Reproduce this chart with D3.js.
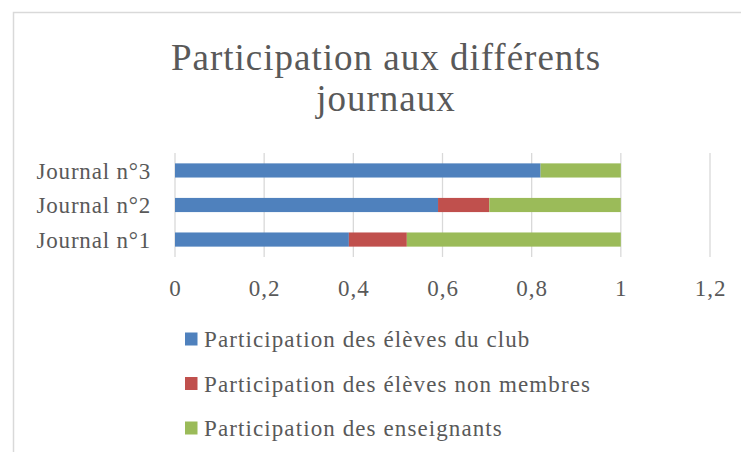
<!DOCTYPE html>
<html>
<head>
<meta charset="utf-8">
<script src="https://cdn.jsdelivr.net/npm/d3@7"></script>
<style>
  html, body { margin: 0; padding: 0; background: #fff; }
  svg { display: block; }
  text { font-family: "Liberation Serif", serif; fill: #595959; }
</style>
</head>
<body>
<svg id="chart" width="741" height="452"></svg>
<script>
/* ── DATA ───────────────────────────────────────── */
const categories   = ['Journal n°1', 'Journal n°2', 'Journal n°3'];
const club         = [0.39, 0.59, 0.82];
const nonMembres   = [0.13, 0.115, 0];
const enseignants  = [0.48, 0.295, 0.18];
const seriesNames  = ['Participation des élèves du club',
                      'Participation des élèves non membres',
                      'Participation des enseignants'];
const seriesColors = ['#4F81BD', '#C0504D', '#9BBB59'];
const xTicks       = [0, 0.2, 0.4, 0.6, 0.8, 1, 1.2];

/* ── SETUP ──────────────────────────────────────── */
const svg = d3.select('#chart');

// chart area border (runs off the right / bottom edge)
svg.append('rect')
  .attr('x', 13.5).attr('y', 12.5).attr('width', 760).attr('height', 460)
  .attr('fill', 'none').attr('stroke', '#d9d9d9').attr('stroke-width', 1.5);

// title
svg.append('text').attr('x', 386).attr('y', 70).attr('text-anchor', 'middle')
  .attr('font-size', 37).attr('letter-spacing', 1).text('Participation aux différents');
svg.append('text').attr('x', 386).attr('y', 111).attr('text-anchor', 'middle')
  .attr('font-size', 37).attr('letter-spacing', 1).text('journaux');

const x = d3.scaleLinear().domain([0, 1.2]).range([175, 710]);
const y = d3.scaleBand().domain(categories.slice().reverse())
  .range([153, 257]).paddingInner(0.59).paddingOuter(0.3);

/* ── GRID ───────────────────────────────────────── */
svg.append('g').selectAll('line').data(xTicks).enter().append('line')
  .attr('x1', d => x(d)).attr('x2', d => x(d))
  .attr('y1', 153).attr('y2', 257)
  .attr('stroke', '#d9d9d9').attr('stroke-width', 1.3);

/* ── BARS ───────────────────────────────────────── */
const rows = categories.map((c, i) => ({
  cat: c, club: club[i], nonMembres: nonMembres[i], enseignants: enseignants[i]
}));
const stack = d3.stack().keys(['club', 'nonMembres', 'enseignants'])(rows);

svg.append('g').selectAll('g').data(stack).enter().append('g')
  .attr('fill', (d, i) => seriesColors[i])
  .selectAll('rect').data(d => d).enter().append('rect')
  .attr('x', d => x(d[0]))
  .attr('width', d => x(d[1]) - x(d[0]))
  .attr('y', d => y(d.data.cat))
  .attr('height', y.bandwidth());

/* ── AXES ───────────────────────────────────────── */
const xAxis = svg.append('g').attr('transform', 'translate(0,296)')
  .call(d3.axisBottom(x).tickValues(xTicks).tickSize(0)
    .tickFormat(d => String(d).replace('.', ',')));
xAxis.select('.domain').remove();
xAxis.selectAll('text').attr('dy', 0).attr('y', 0)
  .attr('font-size', 23).attr('letter-spacing', 1)
  .attr('font-family', '"Liberation Serif", serif').attr('fill', '#595959');

const yAxis = svg.append('g').attr('transform', 'translate(151,0)')
  .call(d3.axisLeft(y).tickSize(0).tickPadding(0));
yAxis.select('.domain').remove();
yAxis.selectAll('text').attr('x', 0).attr('dy', '0.35em')
  .attr('font-size', 23).attr('letter-spacing', 0.8)
  .attr('font-family', '"Liberation Serif", serif').attr('fill', '#595959');

/* ── LEGEND ─────────────────────────────────────── */
const legend = svg.append('g').selectAll('g').data(seriesNames).enter().append('g')
  .attr('transform', (d, i) => 'translate(185,' + (339 + i * 44.5) + ')');
legend.append('rect').attr('x', 0).attr('y', -6.5).attr('width', 12.5).attr('height', 13)
  .attr('fill', (d, i) => seriesColors[i]);
legend.append('text').attr('x', 19).attr('y', 8).attr('font-size', 23)
  .attr('letter-spacing', 1.1).text(d => d);
</script>
</body>
</html>
